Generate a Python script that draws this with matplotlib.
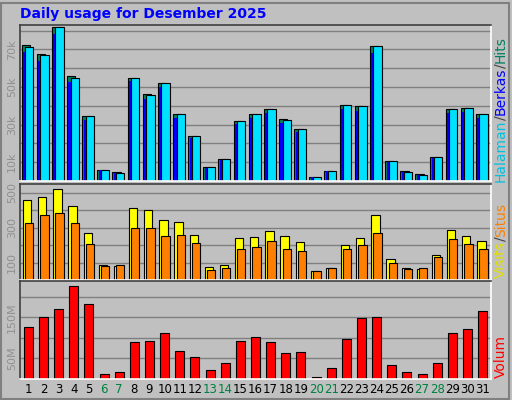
import matplotlib.pyplot as plt
import numpy as np

days = list(range(1, 32))
weekend = [6, 7, 13, 14, 20, 21, 27, 28]

hits = [72.4, 67.5, 81.9, 55.7, 34.5, 5.9, 4.8, 55.0, 46.3, 52.2, 35.5, 24.2, 7.4, 11.8, 31.8, 35.5,
        38.2, 32.9, 27.6, 2.2, 5.4, 40.4, 39.9, 71.6, 10.8, 5.4, 3.8, 12.9, 38.2, 38.8, 35.5]
files = [68.4, 63.8, 78.3, 52.6, 32.6, 5.6, 4.4, 53.0, 43.6, 49.8, 33.5, 22.8, 7.0, 11.3, 30.2, 33.6,
         36.0, 30.9, 26.0, 2.0, 5.1, 38.1, 37.5, 68.3, 10.2, 4.9, 3.4, 12.3, 36.0, 36.8, 33.5]
pages = [71.1, 66.8, 81.9, 55.0, 34.5, 5.9, 4.3, 55.0, 45.8, 52.2, 35.5, 24.2, 7.4, 11.8, 31.8, 35.5,
         38.2, 32.3, 27.6, 2.2, 5.4, 40.4, 39.9, 71.6, 10.8, 4.8, 3.2, 12.9, 38.2, 38.8, 35.5]
visits = [459, 476, 518, 424, 271, 88, 78, 412, 400, 341, 329, 259, 76, 88, 241, 247,
          282, 253, 218, 53, 71, 200, 241, 371, 118, 71, 65, 141, 288, 253, 224]
sites = [324, 371, 382, 324, 206, 82, 88, 300, 300, 253, 259, 212, 59, 71, 176, 188,
         224, 176, 165, 53, 71, 176, 200, 271, 100, 65, 71, 129, 235, 206, 176]
volume = [126, 151, 171, 226, 183, 13, 16, 91, 93, 111, 68, 53, 21, 38, 93, 103,
          91, 63, 66, 6, 28, 98, 148, 151, 33, 16, 13, 38, 113, 123, 166]

W, H = 512, 400
bg = "#c0c0c0"
fig = plt.figure(figsize=(W / 100, H / 100), dpi=100)
fig.patch.set_facecolor(bg)
fig.patches.append(plt.Rectangle((1 / W, 1 / H), 1 - 4 / W, 1 - 4 / H, transform=fig.transFigure,
                                 fill=False, edgecolor="#808080", linewidth=1.5))

def make_ax(top, bottom):
    ax = fig.add_axes([20 / W, 1 - bottom / H, 471 / W, (bottom - top) / H])
    ax.set_facecolor(bg)
    ax.set_xlim(0.45, 31.55)
    ax.set_xticks([])
    for s in ax.spines.values():
        s.set_color("white")
        s.set_linewidth(1.2)
    ax.spines["left"].set_color("#404040")
    ax.spines["top"].set_color("#404040")
    ax.tick_params(axis="y", length=0, labelsize=8, labelcolor="#909090", pad=2)
    ax.set_axisbelow(True)
    return ax

x = np.array(days)
kw = dict(edgecolor="black", linewidth=0.8)

ax1 = make_ax(25, 181)
ax1.set_ylim(0, 83)
ax1.set_yticks(range(10, 81, 10))
ax1.set_yticklabels(["10k", "", "30k", "", "50k", "", "70k", ""], rotation=90, va="center")
ax1.grid(axis="y", color="#808080", linewidth=1)
ax1.bar(x - 0.17, hits, 0.55, color="#008060", **kw)
ax1.bar(x - 0.1, files, 0.5, color="#0000ff", linewidth=0)
ax1.bar(x + 0.06, pages, 0.55, color="#00e0ff", **kw)

ax2 = make_ax(184, 280)
ax2.set_ylim(0, 549)
ax2.set_yticks(range(100, 501, 100))
ax2.set_yticklabels(["100", "", "300", "", "500"], rotation=90, va="center")
ax2.grid(axis="y", color="#808080", linewidth=1)
ax2.bar(x - 0.08, visits, 0.55, color="#ffff00", **kw)
ax2.bar(x + 0.06, sites, 0.55, color="#ff8000", **kw)

ax3 = make_ax(281, 379)
ax3.set_ylim(0, 239)
ax3.set_yticks(range(50, 201, 50))
ax3.set_yticklabels(["50M", "", "150M", ""], rotation=90, va="center")
ax3.grid(axis="y", color="#808080", linewidth=1)
ax3.bar(x, volume, 0.6, color="#ff0000", **kw)
ax3.set_xticks(days)
ax3.set_xticklabels([str(d) for d in days], fontsize=8.5)
ax3.tick_params(axis="x", length=0, pad=3)
for lab, d in zip(ax3.get_xticklabels(), days):
    lab.set_color("#008040" if d in weekend else "black")

fig.text(20 / W, 1 - 14 / H, "Daily usage for Desember 2025", color="#0000ff", fontsize=10,
         fontweight="bold", va="center")

def side_label(yc, parts):
    # stacked coloured words, rotated, reading bottom to top
    prev = None
    for txt, col in parts:
        if prev is None:
            prev = fig.text(501 / W, yc, txt, color=col, rotation=90, fontsize=10,
                            ha="center", va="bottom")
        else:
            prev = ax1.annotate(txt, xy=(0.5, 1), xycoords=prev, color=col, rotation=90,
                                fontsize=10, ha="center", va="bottom", annotation_clip=False)

side_label(1 - 182 / H, [("Halaman", "#00c0e0"), ("/", "#404040"), ("Berkas", "#0000ff"),
                         ("/", "#404040"), ("Hits", "#008060")])
side_label(1 - 278 / H, [("Visits", "#e0e000"), ("/", "#404040"), ("Situs", "#ff8000")])
side_label(1 - 378 / H, [("Volum", "#ff0000")])

fig.savefig("out.png", dpi=100, facecolor=bg)
